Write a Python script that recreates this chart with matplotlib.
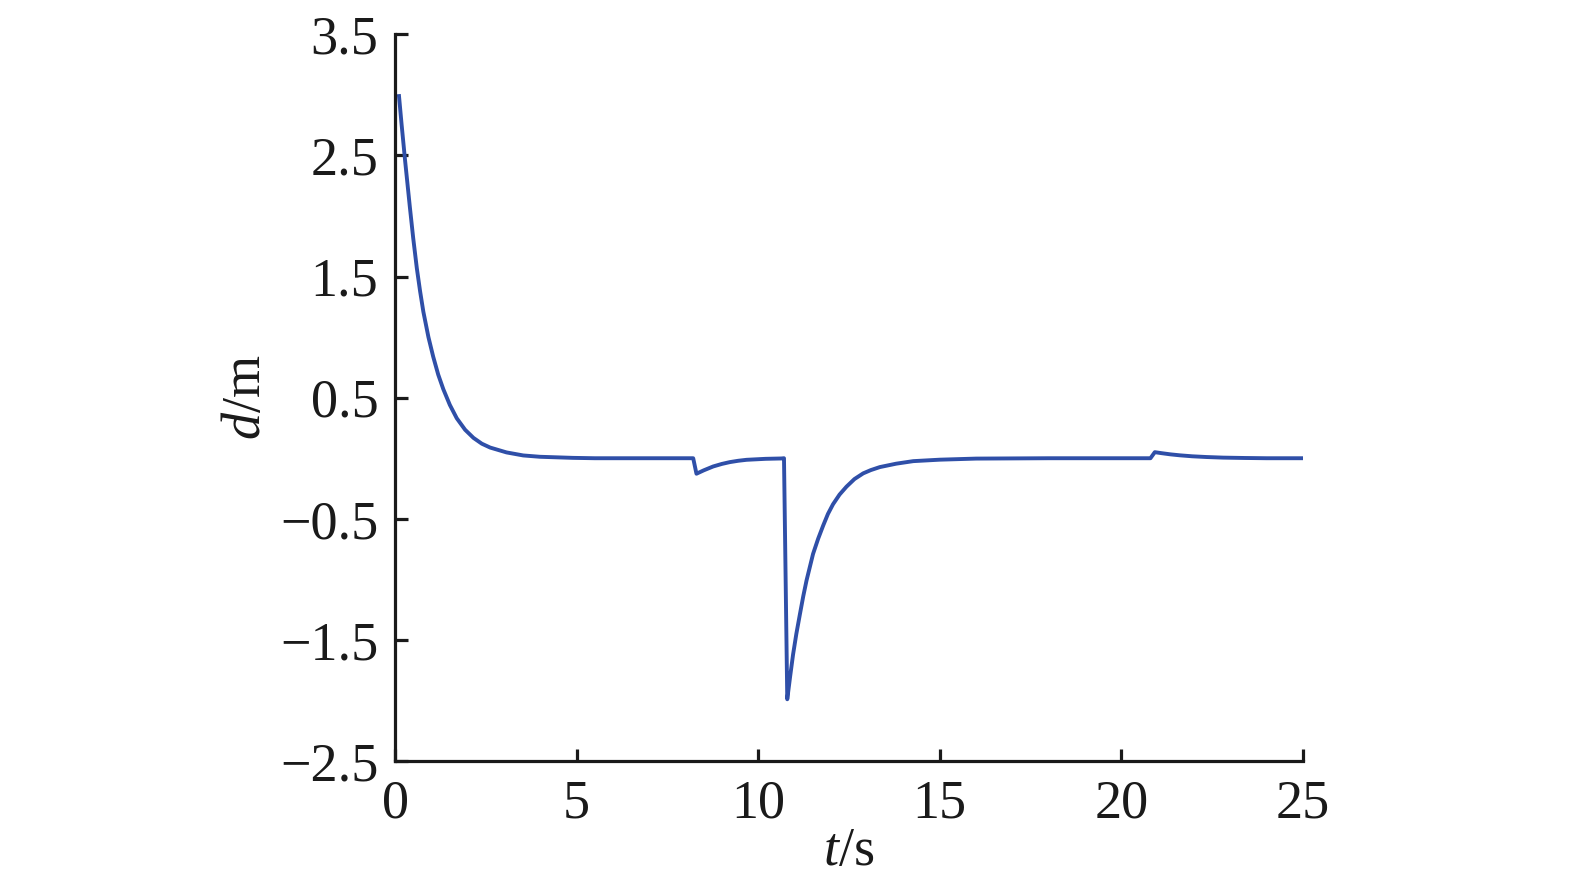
import matplotlib.pyplot as plt

# Datos: tiempo (s) y desviación lateral d (m)
t = [0.11, 0.18, 0.28, 0.41, 0.50, 0.60, 0.69, 0.78, 0.92, 1.05, 1.19, 1.33, 1.51, 1.70,
     1.93, 2.16, 2.39, 2.62, 3.07, 3.53, 3.99, 4.9, 5.5,
     6.5, 8.21, 8.30, 8.5, 8.76, 9.0, 9.22, 9.45, 9.68, 10.2, 10.64, 10.71,
     10.80, 10.88, 10.96, 11.05, 11.15, 11.24, 11.33, 11.42, 11.51, 11.65, 11.79, 11.92,
     12.06, 12.24, 12.43, 12.65, 12.89, 13.1, 13.35, 13.8, 14.27, 15.0, 16.0,
     18.0, 20.8, 20.92, 21.1, 21.35, 21.61, 21.95, 22.34, 22.8, 23.4, 24.0, 25.0]
d = [2.99, 2.76, 2.45, 2.07, 1.82, 1.57, 1.38, 1.21, 1.00, 0.84, 0.69, 0.57, 0.44, 0.33,
     0.235, 0.168, 0.12, 0.088, 0.048, 0.023, 0.012, 0.003, 0.0,
     0.0, 0.0, -0.128, -0.10, -0.068, -0.047, -0.032, -0.021, -0.013, -0.005, -0.002, 0.0,
     -1.99, -1.80, -1.62, -1.45, -1.285, -1.14, -1.01, -0.90, -0.79, -0.665, -0.555, -0.46,
     -0.38, -0.30, -0.235, -0.172, -0.125, -0.098, -0.073, -0.045, -0.024, -0.012, -0.003,
     0.0, 0.0, 0.05, 0.042, 0.032, 0.024, 0.016, 0.01, 0.005, 0.002, 0.0, 0.0]

xticks = [0, 5, 10, 15, 20, 25]
yticks = [-2.5, -1.5, -0.5, 0.5, 1.5, 2.5, 3.5]

plt.rcParams['font.family'] = 'Liberation Serif'
plt.rcParams['mathtext.fontset'] = 'custom'
plt.rcParams['mathtext.rm'] = 'Liberation Serif'
plt.rcParams['mathtext.it'] = 'Liberation Serif:italic'

fig = plt.figure(figsize=(15.75, 8.84), dpi=100)
ax = fig.add_axes([0.2508, 0.1391, 0.5765, 0.8221])

ax.plot(t, d, color='#2f4fa8', linewidth=2.8, solid_joinstyle='round')

ax.set_xlim(0, 25)
ax.set_ylim(-2.5, 3.5)
ax.set_xticks(xticks)
ax.set_yticks(yticks)
ax.set_xticklabels([str(v) for v in xticks])
ax.set_yticklabels([f'{v:.1f}'.replace('-', '\u2212') for v in yticks])

ax.spines['top'].set_visible(False)
ax.spines['right'].set_visible(False)
for s in ['left', 'bottom']:
    ax.spines[s].set_linewidth(2.3)
    ax.spines[s].set_color('#1a1a1a')

ax.tick_params(direction='in', length=9, width=2.3, color='#1a1a1a',
               labelsize=39, labelcolor='#1a1a1a')
ax.tick_params(axis='x', pad=13)
ax.tick_params(axis='y', pad=12)

ax.set_xlabel(r'$t$/s', fontsize=39, labelpad=-2, color='#1a1a1a')
ax.set_ylabel(r'$d$/m', fontsize=39, labelpad=6, color='#1a1a1a')

plt.savefig('out.png', dpi=100)
